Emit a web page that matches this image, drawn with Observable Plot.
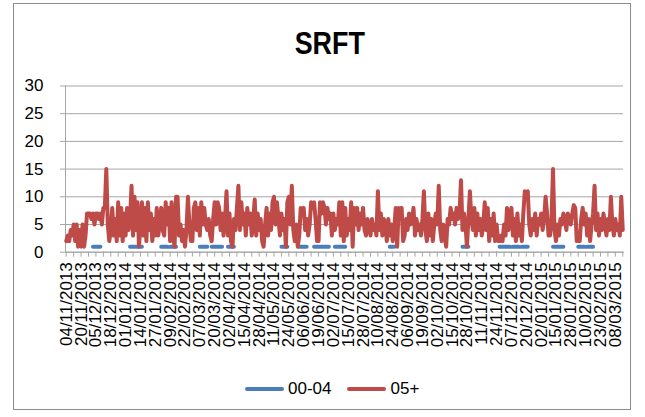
<!DOCTYPE html>
<html>
<head>
<meta charset="utf-8">
<script src="https://cdn.jsdelivr.net/npm/d3@7"></script>
<script src="https://cdn.jsdelivr.net/npm/@observablehq/plot@0.6"></script>
<style>
  html, body { margin: 0; padding: 0; background: #fff; }
  #wrap { position: relative; width: 645px; height: 417px; overflow: hidden; font-family: "Liberation Sans", Arial, sans-serif; }
  #border { position: absolute; left: 13px; top: 3px; width: 618px; height: 407px; border: 1px solid #8c8c8c; box-sizing: border-box; }
  #title { position: absolute; left: 0; top: 27px; width: 660px; text-align: center; font-weight: bold; font-size: 32px; line-height: 32px; color: #000; }
  #title span { display: inline-block; transform: scaleX(0.84); }
  #chart { position: absolute; left: 0; top: 70px; }
  #legend { position: absolute; left: 245px; top: 378px; height: 22px; display: flex; align-items: center; font-size: 17px; color: #000; }
  #legend .sw { display: inline-block; width: 39px; height: 4px; border-radius: 2px; margin-right: 4px; }
  #legend .item { display: flex; align-items: center; margin-right: 16px; }
</style>
</head>
<body>
<div id="wrap">
  <div id="border"></div>
  <div id="title"><span>SRFT</span></div>
  <div id="chart"></div>
  <div id="legend"></div>
</div>
<script>
// Category axis labels (one label every 10 categories)
const dateLabels = ["04/11/2013","20/11/2013","05/12/2013","18/12/2013","01/01/2014","14/01/2014","27/01/2014","09/02/2014","22/02/2014","07/03/2014","20/03/2014","02/04/2014","15/04/2014","28/04/2014","11/05/2014","24/05/2014","06/06/2014","19/06/2014","02/07/2014","15/07/2014","28/07/2014","10/08/2014","24/08/2014","06/09/2014","19/09/2014","02/10/2014","15/10/2014","28/10/2014","11/11/2014","24/11/2014","07/12/2014","20/12/2014","02/01/2015","15/01/2015","28/01/2015","10/02/2015","23/02/2015","08/03/2015"];

const yTicks = [0, 5, 10, 15, 20, 25, 30];

// Series "05+" daily values (categories 0..375), split in blocks
const red1 = [2,3,2,4,3,5,2,5,1,4, 1,5,1,3,7,7,7,6,7,5, 7,7,6,7,5,8,8,15,5,2, 4,8,3,6,2,9,3,8,2,7, 3,8,4,6,12,3,10,4,9,1, 5,9,3,8,2,9,4,7,2,6, 3,8,3,5,8,4,3,9,5,8, 2,9,3,1,10];
const red2 = [10,3,5,2,4,1,4,10,5,2, 2,8,9,4,8,3,9,5,8,5, 4,6,3,2,6,9,5,9,8,4, 7,3,6,11,3,7,2,1,6,4, 8,12,4,9,5,7,3,8,5,7, 3,6,9.5,3,7,4,6,2,1,5, 8,3,7,4,9,10,5,9,6,3, 7,4,6,1];
const red3 = [9,10,5,12,4,2,5,1,3,8, 7,8,4,6,3,5,9,8,9,6, 2,2,9,7,9,8,5,8,6,7, 3,7,4,6,5,9,3,9,2,8, 3,6,4,9,1,8,5,8,4,7, 5,8,4,3,6,5,3,6,4,5, 3,11,4,7,3,6,5,2,6,3, 5,2,4,8,1,8];
const red4 = [7,8,2,3,6,4,7,5,6,8, 3,6,4,5,3,6,11,4,2,7, 3,6,2,5,7,5,12,4,2,5, 3,1,6,5,8,6,7,5,8,6, 7,13,4,7,5,1,6,11,6,4, 8,3,7,4,6,3,5,9,4,8, 2,6,3,7,2,5,2,2,3,2, 5,3,8,4,7];
const red5 = [8,3,6,2,7,3,5,2,7,11, 10,11,5,3,6,4,7,3,6,5, 7,4,6,10,7,3,3,6,15,4, 2,5,3,6,5,7,6,4,7,6, 5,7,8.5,8,2,3,2,6,8,5, 7,3,6,2,5,7,12,4,7,3, 6,4,7,5,3,6,4,10,5,3, 6,4,5,3,10,4];

// Series "00-04": categories where a value (1) was recorded
const blueDays = [18,19,20,21,22,23, 43,44,45,46,47,48,49,50,51, 64,65,66,67,68, 70,71,72,73,74, 90,91,92,93,94,95, 98,99,100,101,102,103,104,105, 109,110,111,112,113, 145,146,147,148,149, 157,158,159,160,161,162, 167,168,169,170,171,172,173,174,175,176,177, 181,182,183,184,185,186,187,188, 218,219,220,221, 267,268,269,270,271, 292,293,294,295,296,297,298,299, 301,302,303,304,305, 307,308,309,310,311, 328,329,330,331,332,333,334,335, 345,346,347,348,349, 351,352,353,354,355];
const blueValue = 1;

const seriesNames = ["00-04", "05+"];
const seriesColors = ["#4a7ebb", "#be4b48"];

const red = [].concat(red1, red2, red3, red4, red5);
const N = red.length;
const redRows = red.map((v, i) => ({i, v}));
const blueSet = new Set(blueDays);
const blueRows = d3.range(N).map(i => ({i, v: blueSet.has(i) ? blueValue : null}));
const xTicks = d3.range(0, N, 5);

const chart = Plot.plot({
  width: 645,
  height: 290,
  marginTop: 15.5,
  marginBottom: 108.3,
  marginLeft: 65,
  marginRight: 22,
  style: {fontFamily: "'Liberation Sans', Arial, sans-serif", fontSize: "17px", background: "transparent", color: "#000"},
  x: {domain: [-0.5, N - 0.5]},
  y: {domain: [0, 30]},
  marks: [
    Plot.gridY(yTicks, {stroke: "#a6a6a6", strokeOpacity: 1}),
    Plot.axisY(yTicks, {tickSize: 5, tickPadding: 17, stroke: "#a6a6a6", fill: "#000", fontSize: 17, label: null}),
    Plot.axisX(xTicks, {tickSize: 5, tickPadding: 5, stroke: "#a6a6a6", fill: "#000", fontSize: 17, tickRotate: -90, label: null,
      tickFormat: i => (i % 10 === 0 && dateLabels[i / 10] !== undefined) ? dateLabels[i / 10] : ""}),
    Plot.frame({anchor: "left", stroke: "#a6a6a6", strokeOpacity: 1}),
    Plot.frame({anchor: "bottom", stroke: "#a6a6a6", strokeOpacity: 1}),
    Plot.line(blueRows, {x: "i", y: "v", stroke: seriesColors[0], strokeWidth: 4}),
    Plot.line(redRows, {x: "i", y: "v", stroke: seriesColors[1], strokeWidth: 4})
  ]
});
document.getElementById("chart").appendChild(chart);

const legend = document.getElementById("legend");
seriesNames.forEach((name, k) => {
  const item = document.createElement("span");
  item.className = "item";
  const sw = document.createElement("span");
  sw.className = "sw";
  sw.style.background = seriesColors[k];
  item.appendChild(sw);
  item.appendChild(document.createTextNode(name));
  legend.appendChild(item);
});
</script>
</body>
</html>
